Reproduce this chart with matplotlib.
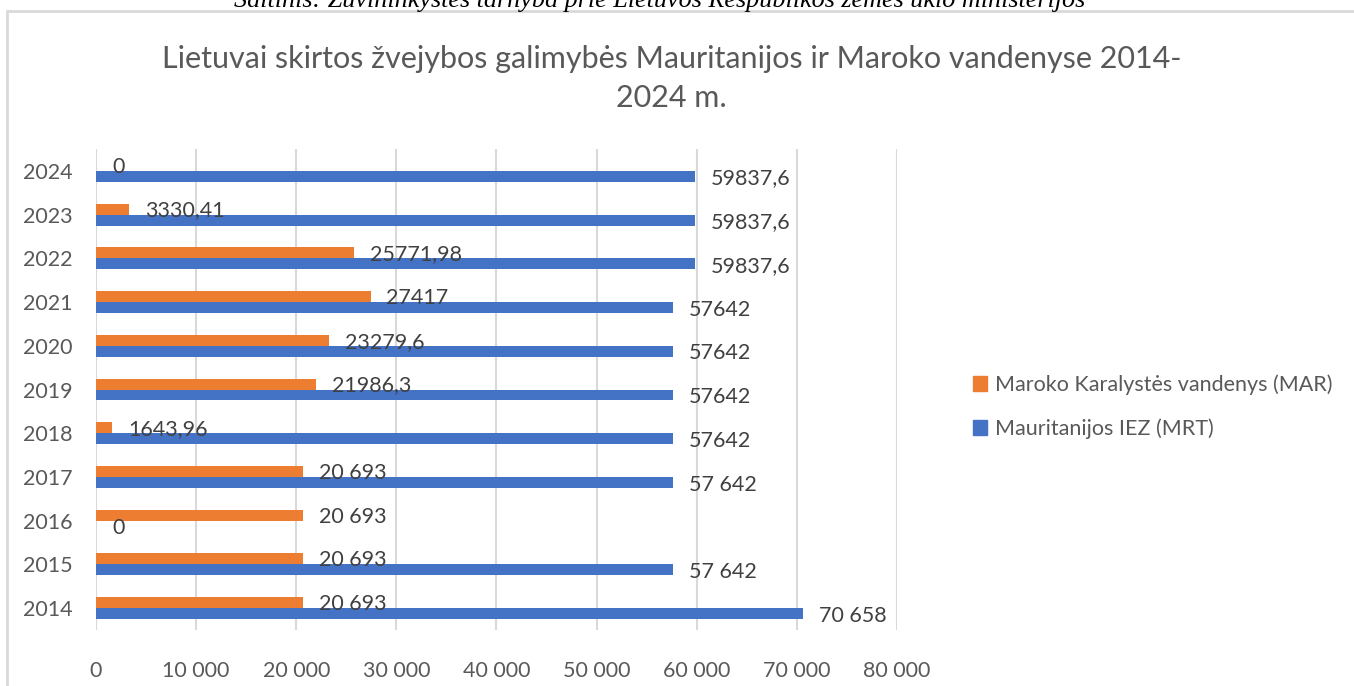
import matplotlib.pyplot as plt
from matplotlib.patches import Patch, Rectangle

plt.rcParams['font.family'] = ['Lato', 'DejaVu Sans']

years = [2014, 2015, 2016, 2017, 2018, 2019, 2020, 2021, 2022, 2023, 2024]
mar = [20693, 20693, 20693, 20693, 1643.96, 21986.3, 23279.6, 27417, 25771.98, 3330.41, 0]
mrt = [70658, 57642, 0, 57642, 57642, 57642, 57642, 57642, 59837.6, 59837.6, 59837.6]
mar_labels = ['20 693', '20 693', '20 693', '20 693', '1643,96', '21986,3', '23279,6',
              '27417', '25771,98', '3330,41', '0']
mrt_labels = ['70 658', '57 642', '0', '57 642', '57642', '57642', '57642', '57642',
              '59837,6', '59837,6', '59837,6']
xticks = [0, 10000, 20000, 30000, 40000, 50000, 60000, 70000, 80000]

orange = '#ED7D31'
blue = '#4472C4'
grey = '#595959'

fig = plt.figure(figsize=(13.54, 6.86), dpi=100)
ax = fig.add_axes([96/1354, 1-630/686, 801/1354, 481/686])

y = list(range(len(years)))
h = 0.25
ax.barh([i + h/2 for i in y], mar, height=h, color=orange, zorder=2)
ax.barh([i - h/2 for i in y], mrt, height=h, color=blue, zorder=2)

# etiketes prie stulpeliu galu
for i in y:
    ax.annotate(mar_labels[i], (mar[i], i + h/2), xytext=(11.5, -1), textcoords='offset points',
                va='center', ha='left', fontsize=15.5, color='#404040')
    ax.annotate(mrt_labels[i], (mrt[i], i - h/2), xytext=(11.5, -1.5), textcoords='offset points',
                va='center', ha='left', fontsize=15.5, color='#404040')

ax.set_xlim(0, 80000)
ax.set_ylim(-0.5, len(years) - 0.5)
ax.set_xticks(xticks)
ax.set_xticklabels([f'{v:,}'.replace(',', ' ') for v in xticks])
ax.set_yticks(y)
ax.set_yticklabels([str(v) for v in years])
ax.tick_params(axis='both', length=0, labelsize=15.5, labelcolor=grey)
ax.tick_params(axis='x', pad=22)
ax.tick_params(axis='y', pad=17)
ax.grid(axis='x', color='#D9D9D9', linewidth=1.5, zorder=0)
for s in ax.spines.values():
    s.set_visible(False)

fig.text(671.5/1354, 1-78.5/686, 'Lietuvai skirtos žvejybos galimybės Mauritanijos ir Maroko vandenyse 2014-\n2024 m.',
         ha='center', va='center', fontsize=22, color=grey, linespacing=1.5)

fig.text(660/1354, 1-7/686, 'Šaltinis: Žuvininkystės tarnyba prie Lietuvos Respublikos žemės ūkio ministerijos',
         ha='center', va='baseline', fontsize=18.8, style='italic', family='Liberation Serif', color='black')

fig.patches.append(Rectangle((7/1354, -0.1), 1.2, 1-11/686 + 0.1, transform=fig.transFigure,
                             fill=False, edgecolor='#D9D9D9', linewidth=2))

handles = [Patch(color=orange), Patch(color=blue)]
fig.legend(handles, ['Maroko Karalystės vandenys (MAR)', 'Mauritanijos IEZ (MRT)'],
           loc='upper left', bbox_to_anchor=(954/1354, 1-355/686), frameon=False,
           fontsize=15.5, labelcolor=grey, handlelength=0.65, handleheight=0.65,
           handletextpad=0.37, labelspacing=1.1)

fig.savefig('out.png', dpi=100)
